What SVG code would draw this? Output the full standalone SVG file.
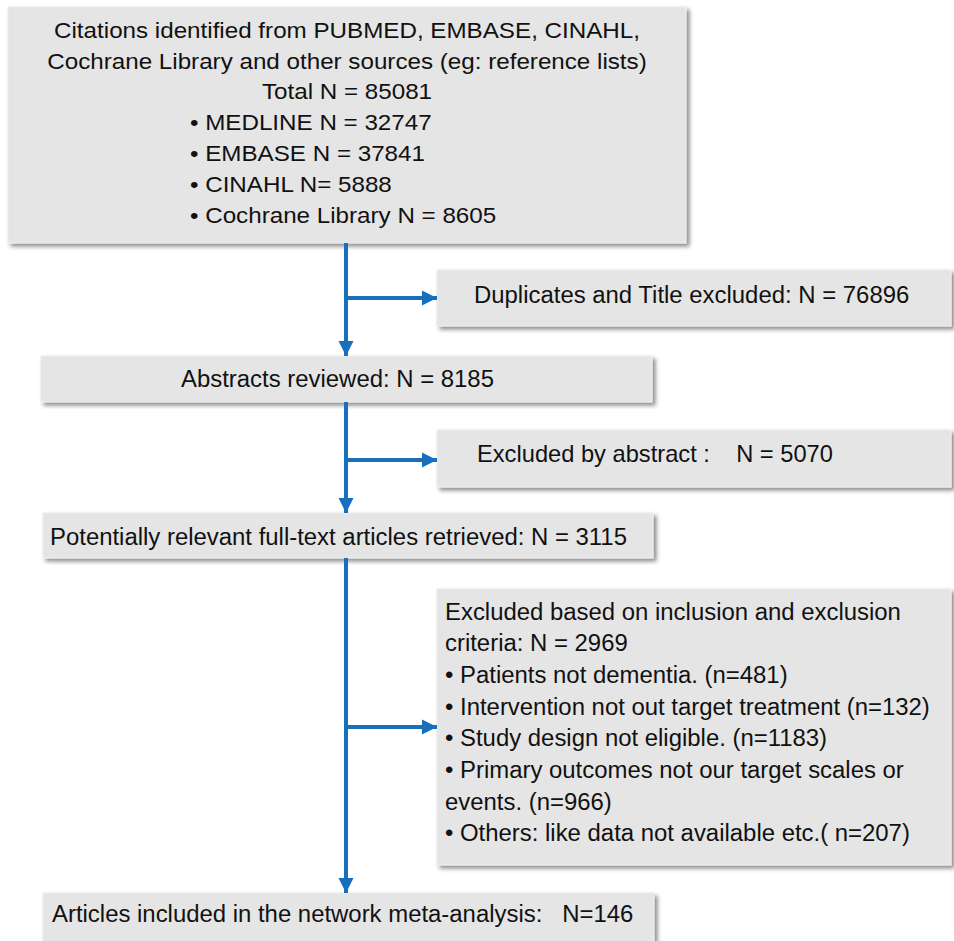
<svg xmlns="http://www.w3.org/2000/svg" width="954" height="941" viewBox="0 0 954 941">
<style>
.box{fill:#e5e5e5;stroke:#ececec;stroke-width:1;filter:url(#sh)}
text{font-family:"Liberation Sans",Arial,sans-serif;font-size:23px;fill:#111}
.s{font-size:22px}
.c{text-anchor:middle}
.ln{stroke:#1a6fbd;stroke-width:4;fill:none}
</style>
<defs>
<filter id="sh" x="-5%" y="-5%" width="115%" height="120%">
<feDropShadow dx="3" dy="3" stdDeviation="2" flood-color="#000" flood-opacity="0.45"/>
</filter>
<marker id="ah" viewBox="0 0 10 10" refX="10" refY="5" markerWidth="3.8" markerHeight="3.8" orient="auto" markerUnits="strokeWidth">
<path d="M0,0 L10,5 L0,10 z" fill="#1a6fbd"/>
</marker>
</defs>
<rect width="954" height="941" fill="#fff"/>
<g id="n1">
<rect class="box" x="8" y="7" width="678" height="236"/>
<g transform="translate(347,0) scale(1.1,1)">
<text class="c s" x="0" y="38">Citations identified from PUBMED, EMBASE, CINAHL,</text>
<text class="c s" x="0" y="69">Cochrane Library and other sources (eg: reference lists)</text>
<text class="c s" x="0" y="99">Total N = 85081</text>
</g>
<g transform="translate(190,0) scale(1.1,1)">
<text class="s" x="0" y="130">• MEDLINE N = 32747</text>
<text class="s" x="0" y="161">• EMBASE N = 37841</text>
<text class="s" x="0" y="192">• CINAHL N= 5888</text>
<text class="s" x="0" y="223">• Cochrane Library N = 8605</text>
</g>
</g>
<g id="n2">
<rect class="box" x="437" y="270" width="514" height="56"/>
<text transform="translate(474,0) scale(1.04,1)" x="0" y="303">Duplicates and Title excluded: N = 76896</text>
</g>
<g id="n3">
<rect class="box" x="41" y="356" width="611" height="46"/>
<text transform="translate(181,0) scale(1.04,1)" x="0" y="387">Abstracts reviewed: N = 8185</text>
</g>
<g id="n4">
<rect class="box" x="437" y="430" width="514" height="57"/>
<text transform="translate(477,0) scale(1.03,1)" x="0" y="462" xml:space="preserve">Excluded by abstract :    N = 5070</text>
</g>
<g id="n5">
<rect class="box" x="43" y="513" width="610" height="45"/>
<text transform="translate(50,0) scale(1.04,1)" x="0" y="545">Potentially relevant full-text articles retrieved: N = 3115</text>
</g>
<g id="n6">
<rect class="box" x="437" y="589" width="514" height="276"/>
<g transform="translate(445,0) scale(1.04,1)">
<text x="0" y="620">Excluded based on inclusion and exclusion</text>
<text x="0" y="651">criteria: N = 2969</text>
<text x="0" y="683">• Patients not dementia. (n=481)</text>
<text x="0" y="715">• Intervention not out target treatment (n=132)</text>
<text x="0" y="746">• Study design not eligible. (n=1183)</text>
<text x="0" y="778">• Primary outcomes not our target scales or</text>
<text x="0" y="810">events. (n=966)</text>
<text x="0" y="841">• Others: like data not available etc.( n=207)</text>
</g>
</g>
<g id="n7">
<rect class="box" x="43" y="893" width="611" height="52"/>
<text transform="translate(52,0) scale(1.04,1)" x="0" y="922" xml:space="preserve">Articles included in the network meta-analysis:   N=146</text>
</g>
<g id="connectors">
<path class="ln" d="M346,243 V356" marker-end="url(#ah)"/>
<path class="ln" d="M346,298 H437" marker-end="url(#ah)"/>
<path class="ln" d="M346,402 V513" marker-end="url(#ah)"/>
<path class="ln" d="M346,460 H437" marker-end="url(#ah)"/>
<path class="ln" d="M346,558 V893" marker-end="url(#ah)"/>
<path class="ln" d="M346,727 H437" marker-end="url(#ah)"/>
</g>
</svg>
